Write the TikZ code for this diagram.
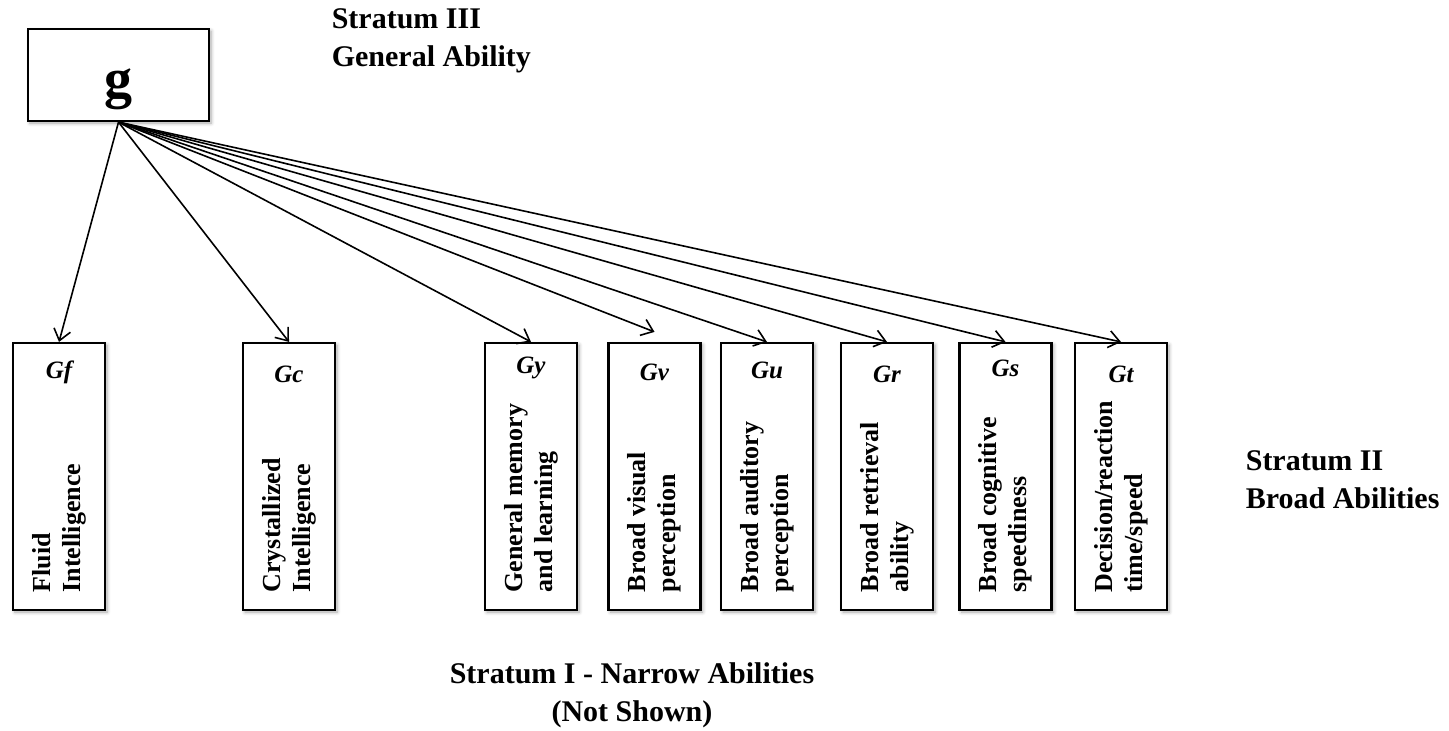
\documentclass[tikz,border=0pt]{standalone}
\usepackage{fontspec}
\setmainfont{Liberation Serif}
\usetikzlibrary{arrows.meta,shadows.blur}

\begin{document}
\begin{tikzpicture}[x=0.5pt,y=-0.5pt,->,>={Straight Barb[length=5.5pt,width=8.5pt]},line width=0.8pt,
    box/.style={draw,line width=1.1pt,fill=white,inner sep=0pt,minimum width=46pt,minimum height=133.5pt,
        blur shadow={shadow xshift=1pt,shadow yshift=-1pt,shadow blur steps=6,shadow opacity=35}},
    abbr/.style={inner sep=0pt,font=\bfseries\itshape\fontsize{12.5}{15}\selectfont},
    ability/.style={rotate=90,anchor=west,align=left,inner sep=0pt,font=\bfseries\fontsize{13}{15}\selectfont},
    stratum/.style={inner sep=0pt,font=\bfseries\fontsize{15}{19}\selectfont}]

            \useasboundingbox (0,0) rectangle (1449,730);

            % stratum III
            \node[box,minimum width=90.5pt,minimum height=46pt,text height=22pt,text depth=0pt,
                font=\bfseries\fontsize{28}{30}\selectfont] (g) at (118.5,75) {g};
            \node[stratum,anchor=west,align=left] (s3) at (331,41) {Stratum III\\General Ability};

            % stratum II
            \node[box] (gf) at (59,476.5) {};
            \node[box] (gc) at (289,476.5) {};
            \node[box] (gy) at (531,476.5) {};
            \node[box] (gv) at (654.5,476.5) {};
            \node[box] (gu) at (767,476.5) {};
            \node[box] (gr) at (887,476.5) {};
            \node[box] (gs) at (1005.5,476.5) {};
            \node[box] (gt) at (1121,476.5) {};

            \node[abbr] (gf label) at ([yshift=-15pt]gf.north) {Gf};
            \node[abbr] (gc label) at ([yshift=-16pt]gc.north) {Gc};
            \node[abbr] (gy label) at ([yshift=-13pt]gy.north) {Gy};
            \node[abbr] (gv label) at ([yshift=-15pt]gv.north) {Gv};
            \node[abbr] (gu label) at ([yshift=-14pt]gu.north) {Gu};
            \node[abbr] (gr label) at ([yshift=-16pt]gr.north) {Gr};
            \node[abbr] (gs label) at ([yshift=-13pt]gs.north) {Gs};
            \node[abbr] (gt label) at ([yshift=-16pt]gt.north) {Gt};

            \node[ability] (gf text) at ([yshift=9pt]gf.south) {Fluid\\Intelligence};
            \node[ability] (gc text) at ([yshift=9pt]gc.south) {Crystallized\\Intelligence};
            \node[ability] (gy text) at ([yshift=9pt]gy.south) {General memory\\and learning};
            \node[ability] (gv text) at ([yshift=9pt]gv.south) {Broad visual\\perception};
            \node[ability] (gu text) at ([yshift=9pt]gu.south) {Broad auditory\\perception};
            \node[ability] (gr text) at ([yshift=9pt]gr.south) {Broad retrieval\\ability};
            \node[ability] (gs text) at ([yshift=9pt]gs.south) {Broad cognitive\\speediness};
            \node[ability] (gt text) at ([yshift=9pt]gt.south) {Decision/reaction\\time/speed};

            \node[stratum,anchor=west,align=left] (s2) at (1245,480) {Stratum II\\Broad Abilities};

            % stratum I
            \node[stratum,align=center] (s1) at (632,695) {Stratum I - Narrow Abilities\\(Not Shown)};

            \draw (g.south) to (gf.north);
            \draw (g.south) to (gc.north);
            \draw (g.south) to (gy.north);
            \draw (g.south) to ([yshift=5pt]gv.north);
            \draw (g.south) to (gu.north);
            \draw (g.south) to (gr.north);
            \draw (g.south) to (gs.north);
            \draw (g.south) to (gt.north);

            ;
        \end{tikzpicture}
\end{document}
